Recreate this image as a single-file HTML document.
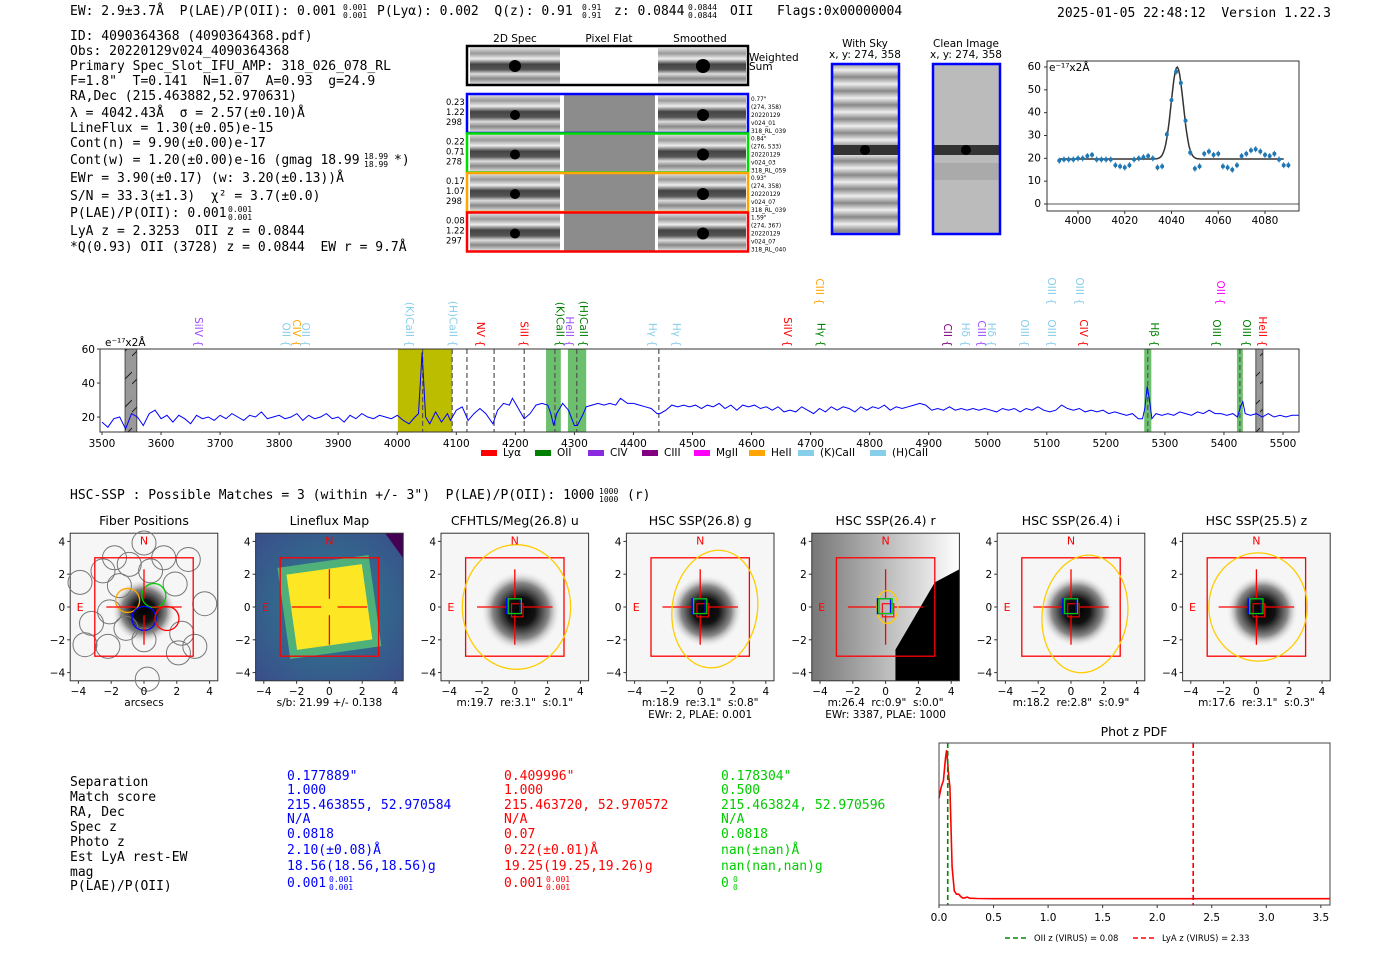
<!DOCTYPE html>
<html><head><meta charset="utf-8"><style>
body{margin:0;background:#fff;width:1400px;height:953px;overflow:hidden}
svg{display:block}
text{white-space:pre}
.m{font-family:"DejaVu Sans Mono","Liberation Mono",monospace;font-size:13px;fill:#000}
.s{font-family:"DejaVu Sans","Liberation Sans",sans-serif;fill:#000}
.t{font-family:"DejaVu Sans","Liberation Sans",sans-serif;font-size:10.5px;fill:#000}
.sup{font-size:8px}
</style></head><body>
<svg id="root" width="1400" height="953" viewBox="0 0 1400 953" xmlns="http://www.w3.org/2000/svg" xml:space="preserve">
<defs>
<linearGradient id="stripes" x1="0" y1="0" x2="0" y2="1">
<stop offset="0" stop-color="#ddd"/><stop offset="0.15" stop-color="#999"/><stop offset="0.3" stop-color="#eee"/><stop offset="0.45" stop-color="#444"/><stop offset="0.6" stop-color="#555"/><stop offset="0.72" stop-color="#ddd"/><stop offset="0.85" stop-color="#888"/><stop offset="1" stop-color="#ddd"/>
</linearGradient>
<linearGradient id="skystr" x1="0" x2="0" spreadMethod="repeat" gradientUnits="userSpaceOnUse" y1="0" y2="14">
<stop offset="0" stop-color="#eee"/><stop offset="0.5" stop-color="#888"/><stop offset="1" stop-color="#eee"/>
</linearGradient>
<radialGradient id="blob"><stop offset="0" stop-color="#000"/><stop offset="0.35" stop-color="#111"/><stop offset="0.7" stop-color="#888"/><stop offset="1" stop-color="#f2f2f2" stop-opacity="0"/></radialGradient>
<radialGradient id="viri" cx="0.5" cy="0.5" r="0.7"><stop offset="0" stop-color="#2c7f8e"/><stop offset="1" stop-color="#3a4e8a"/></radialGradient>
<linearGradient id="rgrad" x1="0" x2="1"><stop offset="0" stop-color="#777"/><stop offset="1" stop-color="#fff"/></linearGradient>
<pattern id="hatch" width="12" height="28" patternUnits="userSpaceOnUse"><rect width="12" height="28" fill="#999"/><line x1="0" y1="20" x2="12" y2="8" stroke="#222" stroke-width="1"/></pattern>
</defs>

<g>
<text class="m" x="70" y="15">EW: 2.9±3.7Å  P(LAE)/P(OII): 0.001</text>
<text class="m sup" x="343" y="10">0.001</text><text class="m sup" x="343" y="18">0.001</text>
<text class="m" x="377" y="15">P(Lyα): 0.002  Q(z): 0.91</text>
<text class="m sup" x="582" y="10">0.91</text><text class="m sup" x="582" y="18">0.91</text>
<text class="m" x="614" y="15">z: 0.0844</text>
<text class="m sup" x="688" y="10">0.0844</text><text class="m sup" x="688" y="18">0.0844</text>
<text class="m" x="730" y="15">OII   Flags:0x00000004</text>
<text class="m" x="1057" y="17">2025-01-05 22:48:12  Version 1.22.3</text>
</g>

<g>
<text class="m" x="70" y="40">ID: 4090364368 (4090364368.pdf)</text>
<text class="m" x="70" y="55">Obs: 20220129v024_4090364368</text>
<text class="m" x="70" y="70">Primary Spec_Slot_IFU_AMP: 318_026_078_RL</text>
<text class="m" x="70" y="85">F=1.8"  T=0.141  N=1.07  A=0.93  g=24.9</text>
<text class="m" x="70" y="100">RA,Dec (215.463882,52.970631)</text>
<text class="m" x="70" y="117">λ = 4042.43Å  σ = 2.57(±0.10)Å</text>
<text class="m" x="70" y="132">LineFlux = 1.30(±0.05)e-15</text>
<text class="m" x="70" y="147">Cont(n) = 9.90(±0.00)e-17</text>
<text class="m" x="70" y="164">Cont(w) = 1.20(±0.00)e-16 (gmag 18.99</text>
<text class="m" x="394" y="164">*)</text>
<text class="m sup" x="364" y="159">18.99</text><text class="m sup" x="364" y="167">18.99</text>
<text class="m" x="70" y="182">EWr = 3.90(±0.17) (w: 3.20(±0.13))Å</text>
<text class="m" x="70" y="200">S/N = 33.3(±1.3)  χ² = 3.7(±0.0)</text>
<text class="m" x="70" y="217">P(LAE)/P(OII): 0.001</text>
<text class="m sup" x="228" y="212">0.001</text><text class="m sup" x="228" y="220">0.001</text>
<text class="m" x="70" y="235">LyA z = 2.3253  OII z = 0.0844</text>
<text class="m" x="70" y="251">*Q(0.93) OII (3728) z = 0.0844  EW r = 9.7Å</text>
</g>

<g>
<text class="t" x="515" y="42" text-anchor="middle" font-size="8">2D Spec</text>
<text class="t" x="609" y="42" text-anchor="middle" font-size="8">Pixel Flat</text>
<text class="t" x="700" y="42" text-anchor="middle" font-size="8">Smoothed</text>
<g>
<rect x="470" y="48" width="90" height="36" fill="url(#stripes)"/>
<rect x="658" y="48" width="88" height="36" fill="url(#stripes)"/>
<circle cx="515" cy="66" r="6" fill="#000"/><circle cx="703" cy="66" r="7" fill="#000"/>
<rect x="467" y="46" width="281" height="39" fill="none" stroke="#000" stroke-width="2.5"/>
<text class="t" x="749" y="61" font-size="8">Weighted</text><text class="t" x="749" y="70" font-size="8">Sum</text>
</g>
<g id="rows"></g>
</g>

<g>
<text class="t" x="865" y="47" text-anchor="middle" font-size="10">With Sky</text>
<text class="t" x="865" y="58" text-anchor="middle" font-size="10">x, y: 274, 358</text>
<rect x="832" y="64" width="67" height="170" fill="url(#skystr)"/>
<rect x="832" y="145" width="67" height="10" fill="#333"/><circle cx="865" cy="150" r="5" fill="#000"/>
<rect x="832" y="64" width="67" height="170" fill="none" stroke="#00f" stroke-width="2.5"/>
</g>
<g>
<text class="t" x="966" y="47" text-anchor="middle" font-size="10">Clean Image</text>
<text class="t" x="966" y="58" text-anchor="middle" font-size="10">x, y: 274, 358</text>
<rect x="933" y="64" width="67" height="170" fill="#bbb"/>
<rect x="933" y="145" width="67" height="10" fill="#333"/><circle cx="966" cy="150" r="5" fill="#000"/>
<rect x="933" y="163" width="67" height="17" fill="#aaa"/>
<rect x="933" y="64" width="67" height="170" fill="none" stroke="#00f" stroke-width="2.5"/>
</g>

<g id="fitplot"></g>
<g id="spec"></g>

<text class="m" x="70" y="499">HSC-SSP : Possible Matches = 3 (within +/- 3")  P(LAE)/P(OII): 1000</text>
<text class="m" x="627" y="499">(r)</text>
<text class="m sup" x="599" y="494">1000</text><text class="m sup" x="599" y="502">1000</text>

<g id="cutouts"></g>

<g>
<text class="m" x="70" y="786">Separation</text>
<text class="m" x="70" y="801">Match score</text>
<text class="m" x="70" y="816">RA, Dec</text>
<text class="m" x="70" y="831">Spec z</text>
<text class="m" x="70" y="846">Photo z</text>
<text class="m" x="70" y="861">Est LyA rest-EW</text>
<text class="m" x="70" y="876">mag</text>
<text class="m" x="70" y="890">P(LAE)/P(OII)</text>
<text class="m" x="287" y="780" style="fill:#00f">0.177889"</text>
<text class="m" x="287" y="794" style="fill:#00f">1.000</text>
<text class="m" x="287" y="809" style="fill:#00f">215.463855, 52.970584</text>
<text class="m" x="287" y="823" style="fill:#00f">N/A</text>
<text class="m" x="287" y="838" style="fill:#00f">0.0818</text>
<text class="m" x="287" y="854" style="fill:#00f">2.10(±0.08)Å</text>
<text class="m" x="287" y="870" style="fill:#00f">18.56(18.56,18.56)g</text>
<text class="m" x="287" y="887" style="fill:#00f">0.001</text>
<text class="m sup" x="329" y="882" style="fill:#00f">0.001</text><text class="m sup" x="329" y="890" style="fill:#00f">0.001</text>
<text class="m" x="504" y="780" style="fill:#f00">0.409996"</text>
<text class="m" x="504" y="794" style="fill:#f00">1.000</text>
<text class="m" x="504" y="809" style="fill:#f00">215.463720, 52.970572</text>
<text class="m" x="504" y="823" style="fill:#f00">N/A</text>
<text class="m" x="504" y="838" style="fill:#f00">0.07</text>
<text class="m" x="504" y="854" style="fill:#f00">0.22(±0.01)Å</text>
<text class="m" x="504" y="870" style="fill:#f00">19.25(19.25,19.26)g</text>
<text class="m" x="504" y="887" style="fill:#f00">0.001</text>
<text class="m sup" x="546" y="882" style="fill:#f00">0.001</text><text class="m sup" x="546" y="890" style="fill:#f00">0.001</text>
<text class="m" x="721" y="780" style="fill:#0c0">0.178304"</text>
<text class="m" x="721" y="794" style="fill:#0c0">0.500</text>
<text class="m" x="721" y="809" style="fill:#0c0">215.463824, 52.970596</text>
<text class="m" x="721" y="823" style="fill:#0c0">N/A</text>
<text class="m" x="721" y="838" style="fill:#0c0">0.0818</text>
<text class="m" x="721" y="854" style="fill:#0c0">nan(±nan)Å</text>
<text class="m" x="721" y="870" style="fill:#0c0">nan(nan,nan)g</text>
<text class="m" x="721" y="887" style="fill:#0c0">0</text>
<text class="m sup" x="733" y="882" style="fill:#0c0">0</text><text class="m sup" x="733" y="890" style="fill:#0c0">0</text>
</g>

<g id="pdf"></g>
</svg>

<script>
const specWave=[3500,3510,3520,3530,3540,3550,3560,3570,3580,3590,3600,3610,3620,3630,3640,3650,3660,3670,3680,3690,3700,3710,3720,3730,3740,3750,3760,3770,3780,3790,3800,3810,3820,3830,3840,3850,3860,3870,3880,3890,3900,3910,3920,3930,3940,3950,3960,3970,3980,3990,4000,4010,4020,4030,4036,4042,4048,4055,4065,4075,4085,4090,4100,4110,4120,4130,4140,4150,4162,4170,4180,4190,4195,4200,4210,4215,4225,4235,4245,4255,4260,4265,4270,4280,4290,4300,4305,4315,4320,4330,4340,4350,4360,4370,4378,4390,4400,4410,4420,4430,4440,4445,4455,4465,4475,4485,4495,4505,4515,4525,4535,4545,4555,4565,4575,4585,4595,4605,4615,4625,4635,4645,4655,4665,4675,4685,4695,4705,4715,4725,4735,4745,4755,4765,4775,4785,4795,4805,4815,4825,4835,4845,4855,4865,4875,4885,4895,4905,4915,4925,4935,4945,4955,4965,4975,4985,4995,5005,5015,5025,5035,5045,5055,5065,5075,5085,5095,5105,5115,5125,5135,5145,5155,5165,5175,5185,5195,5205,5215,5225,5235,5245,5255,5262,5266,5270,5274,5278,5285,5295,5305,5315,5325,5335,5345,5355,5365,5375,5385,5395,5405,5415,5423,5428,5432,5436,5445,5455,5465,5475,5485,5495,5505,5515,5527];
const specFlux=[17,14,19,20,13,22,20,15,22,24,19,21,17,21,19,16,21,19,20,18,21,19,22,20,18,21,20,23,19,20,21,19,20,22,18,21,19,20,22,19,20,17,21,19,22,20,19,21,20,19,21,18,16,20,22,58,20,16,23,17,22,18,24,26,18,22,25,22,16,24,28,27,31,28,22,19,22,27,28,27,22,15,22,28,24,15,15,22,26,27,28,27,28,27,31,28,28,27,26,25,22,22,24,27,26,27,26,27,25,27,26,28,25,27,24,27,26,27,25,26,24,26,23,24,23,26,24,22,25,23,26,24,26,25,23,26,24,26,25,27,24,26,25,26,27,28,27,24,25,24,26,24,25,24,25,24,25,24,23,25,24,25,23,25,24,26,24,23,24,27,25,24,25,23,24,23,24,22,23,22,21,22,19,19,25,38,30,19,22,21,22,21,23,22,21,23,22,24,22,22,21,22,20,26,29,22,21,22,20,22,20,21,20,21,21];
const specXTicks=[3500,3600,3700,3800,3900,4000,4100,4200,4300,4400,4500,4600,4700,4800,4900,5000,5100,5200,5300,5400,5500];
const specYTicks=[20,40,60];
const dashWaves=[4043,4093,4118,4164,4215,4267,4304,4443,5271,5427];
const bandStart=[4001,4252,4289,5265,5422];
const bandEnd=[4093,4277,4320,5277,5432];
const bandColor=['#bdbd00','#6cbf6c','#6cbf6c','#6cbf6c','#6cbf6c'];
const hatchStart=[3539,5454];
const hatchEnd=[3559,5466];
const lineNames=['SiIV','OII','CIV','OII','(K)CaII','(H)CaII','NV','SiII','(K)CaII','HeII','(H)CaII','Hγ','Hγ','SiIV','CIII','Hγ','CII','Hδ','CIII','Hδ','OIII','OIII','OIII','OIII','CIV','Hβ','OII','OIII','OIII','HeII'];
const lineWaves=[3652,3801,3818,3834,4010,4083,4130,4204,4265,4281,4304,4421,4462,4650,4704,4707,4921,4951,4978,4995,5051,5097,5097,5144,5151,5271,5383,5376,5427,5454];
const lineColors=['#9b4dff','#87ceeb','#ffa500','#87ceeb','#87ceeb','#87ceeb','#f00','#f00','#008000','#9b4dff','#008000','#87ceeb','#87ceeb','#f00','#ffa500','#008000','#800080','#87ceeb','#9b4dff','#87ceeb','#87ceeb','#87ceeb','#87ceeb','#87ceeb','#f00','#008000','#ff00ff','#008000','#008000','#f00'];
const lineRow=[0,0,0,0,0,0,0,0,0,0,0,0,0,0,1,0,0,0,0,0,0,1,0,1,0,0,1,0,0,0];
const legendNames=['Lyα','OII','CIV','CIII','MgII','HeII','(K)CaII','(H)CaII'];
const legendColors=['#f00','#008000','#8a2be2','#800080','#ff00ff','#ffa500','#87ceeb','#87ceeb'];

const fitWave=[3992,3994,3996,3998,4000,4002,4004,4006,4008,4010,4012,4014,4016,4018,4020,4022,4024,4026,4028,4030,4032,4034,4036,4038,4040,4042,4044,4046,4048,4050,4052,4054,4056,4058,4060,4062,4064,4066,4068,4070,4072,4074,4076,4078,4080,4082,4084,4086,4088,4090];
const fitFlux=[19,19.5,19.5,19.5,20,20,21,21.5,19.5,19.5,19.5,19.5,17,16.5,16,17,19.5,20,20.5,21,20,16,16.5,30.5,45.5,58,53,36.5,22.5,15.5,16.5,22,23,21.5,22,16.5,16,15,17,21,22,23.5,24,23,21.5,21,22,19.5,17,17];
const fitModel=[19.7,40.3,4042.43,2.57];
const fitXTicks=[4000,4020,4040,4060,4080];
const fitYTicks=[0,10,20,30,40,50,60];

const pdfZ=[0,0.02,0.04,0.06,0.07,0.08,0.09,0.1,0.11,0.12,0.14,0.16,0.18,0.2,0.22,0.24,0.26,0.28,0.35,0.5,3.6];
const pdfP=[0.63,0.7,0.74,0.88,0.93,0.85,0.76,0.7,0.45,0.2,0.05,0.03,0.03,0.015,0.005,0.008,0.012,0.005,0.003,0.002,0.002];
const pdfTicks=[0,0.5,1,1.5,2,2.5,3,3.5];
const zOII=[0.08];
const zLyA=[2.33];

const NS='http://www.w3.org/2000/svg';
function mk(parent,tag,attrs,txt){const e=document.createElementNS(NS,tag);for(const k in attrs)e.setAttribute(k,attrs[k]);if(txt!==undefined)e.textContent=txt;parent.appendChild(e);return e;}

(function(){
 const g=document.getElementById('rows');
 const cols=['#00f','#0d0','#ffa500','#f00'];
 const lab=[['0.23','1.22','298'],['0.22','0.71','278'],['0.17','1.07','298'],['0.08','1.22','297']];
 const rlab=[['0.77"','(274, 358)','20220129','v024_01','318_RL_039'],['0.84"','(276, 533)','20220129','v024_03','318_RL_059'],['0.93"','(274, 358)','20220129','v024_07','318_RL_039'],['1.59"','(274, 367)','20220129','v024_07','318_RL_040']];
 for(let i=0;i<4;i++){
  const y=94+i*39.5;
  const r=mk(g,'g',{});
  
  
  mk(r,'rect',{x:470,y:y+1,width:90,height:37,fill:'url(#stripes)'});
  mk(r,'rect',{x:564,y:y+1,width:91,height:37,fill:'#8c8c8c'});
  mk(r,'rect',{x:658,y:y+1,width:88,height:37,fill:'url(#stripes)'});
  mk(r,'circle',{cx:515,cy:y+21,r:5,fill:'#000'});
  mk(r,'circle',{cx:703,cy:y+21,r:6,fill:'#000'});
  mk(r,'rect',{x:467,y:y,width:281,height:39,fill:'none',stroke:cols[i],'stroke-width':2.5});
  lab[i].forEach((t,j)=>mk(r,'text',{class:'t',x:0,y:0,'font-size':'10',transform:`translate(446 ${y+11+j*10}) scale(0.8)`},t));
  rlab[i].forEach((t,j)=>mk(r,'text',{class:'t',x:0,y:0,'font-size':'10',transform:`translate(751 ${y+7+j*8}) scale(0.55)`},t));
 }
})();

(function(){
 const g=document.getElementById('fitplot');
 const L=1047,R=1299,T=61,B=211;
 const x=w=>1078+(w-4000)*2.3375, y=v=>204-v*2.283;
 mk(g,'line',{x1:L,y1:y(0),x2:R,y2:y(0),stroke:'#555','stroke-width':1});
 let d='';for(let w=3992;w<=4088;w+=0.5){const m=fitModel[0]+fitModel[1]*Math.exp(-0.5*Math.pow((w-fitModel[2])/fitModel[3],2));d+=(d?'L':'M')+x(w).toFixed(1)+','+y(m).toFixed(1);}
 const p=mk(g,'path',{d:d,fill:'none',stroke:'#333','stroke-width':1.5});
 
 
 fitWave.forEach((w,i)=>{
  const c=mk(g,'g',{});
  
  
  mk(c,'line',{x1:x(w),x2:x(w),y1:y(fitFlux[i])-3,y2:y(fitFlux[i])+3,stroke:'#1f77b4','stroke-width':1});
  mk(c,'circle',{cx:x(w),cy:y(fitFlux[i]),r:2,fill:'#1f77b4'});
 });
 mk(g,'rect',{x:L,y:T,width:R-L,height:B-T,fill:'none',stroke:'#333','stroke-width':1});
 fitXTicks.forEach(t=>{mk(g,'line',{x1:x(t),x2:x(t),y1:B,y2:B+3,stroke:'#333'});mk(g,'text',{class:'t','font-size':'9.5',x:x(t),y:B+13,'text-anchor':'middle'},t);});
 fitYTicks.forEach(t=>{mk(g,'line',{x1:L-3,x2:L,y1:y(t),y2:y(t),stroke:'#333'});mk(g,'text',{class:'t','font-size':'9.5',x:L-6,y:y(t)+3,'text-anchor':'end'},t);});
 mk(g,'text',{class:'t','font-size':'9',x:L+2,y:T+10},'e⁻¹⁷x2Å');
})();

(function(){
 const g=document.getElementById('spec');
 const L=100,R=1299,T=349,B=432;
 const x=w=>102+(w-3500)*0.5905, y=v=>432-(v-11.2)*1.7;
 bandStart.forEach((s,i)=>{const b=mk(g,'rect',{x:x(s),y:T,width:x(bandEnd[i])-x(s),height:B-T,fill:bandColor[i]});});
 hatchStart.forEach((s,i)=>{const b=mk(g,'rect',{x:x(s),y:T,width:x(hatchEnd[i])-x(s),height:B-T,fill:'url(#hatch)',stroke:'#333','stroke-width':0.8});});
 dashWaves.forEach(w=>{const l=mk(g,'line',{x1:x(w),x2:x(w),y1:T,y2:B,stroke:'#555','stroke-width':1.2,'stroke-dasharray':'5,3'});});
 let d='';specWave.forEach((w,i)=>{d+=(i?'L':'M')+x(w).toFixed(1)+','+y(specFlux[i]).toFixed(1);});
 const p=mk(g,'path',{d:d,fill:'none',stroke:'#00f','stroke-width':1});
 
 
 mk(g,'rect',{x:L,y:T,width:R-L,height:B-T,fill:'none',stroke:'#333','stroke-width':1});
 specXTicks.forEach(t=>{mk(g,'line',{x1:x(t),x2:x(t),y1:B,y2:B+3,stroke:'#333'});mk(g,'text',{class:'t','font-size':'10',x:x(t),y:B+15,'text-anchor':'middle'},t);});
 specYTicks.forEach(t=>{mk(g,'line',{x1:L-3,x2:L,y1:y(t),y2:y(t),stroke:'#333'});mk(g,'text',{class:'t','font-size':'10',x:L-5,y:y(t)+4,'text-anchor':'end'},t);});
 mk(g,'text',{class:'t','font-size':'9.5',x:L+5,y:T-3},'e⁻¹⁷x2Å');
 lineNames.forEach((n,i)=>{
  const xx=x(lineWaves[i]), yy=lineRow[i]?305:347;
  const t=mk(g,'text',{class:'t','font-size':'9.5',x:xx,y:yy,'text-anchor':'end',transform:`rotate(90 ${xx} ${yy})`,dy:'-3',style:'fill:'+lineColors[i]},n+' {');
  
  
 });
 const lx=[481,535,588,642,694,749,798,870];
 legendNames.forEach((n,i)=>{
  const e=mk(g,'g',{});
  
  
  mk(e,'rect',{x:lx[i],y:450,width:16,height:6,fill:legendColors[i]});
  mk(e,'text',{class:'t','font-size':'8',x:lx[i]+22,y:456},n);
 });
})();

(function(){
 const g=document.getElementById('cutouts');
 const titles=['Fiber Positions','Lineflux Map','CFHTLS/Meg(26.8) u','HSC SSP(26.8) g','HSC SSP(26.4) r','HSC SSP(26.4) i','HSC SSP(25.5) z'];
 const sub1=['arcsecs','s/b: 21.99 +/- 0.138','m:19.7  re:3.1"  s:0.1"','m:18.9  re:3.1"  s:0.8"','m:26.4  rc:0.9"  s:0.0"','m:18.2  re:2.8"  s:0.9"','m:17.6  re:3.1"  s:0.3"'];
 const sub2=['','','','EWr: 2, PLAE: 0.001','EWr: 3387, PLAE: 1000','',''];
 const s=16.4;
 for(let i=0;i<7;i++){
  const cx=144+i*185.4, cy=607;
  const p=mk(g,'g',{});
  
  
  const L=cx-4.5*s,T=cy-4.5*s,W=9*s;
  mk(p,'rect',{x:L,y:T,width:W,height:W,fill:'#f6f6f6'});
  if(i==0){mk(p,'circle',{cx:cx,cy:cy+4,r:32,fill:'url(#blob)'});}
  else if(i==1){mk(p,'rect',{x:L,y:T,width:W,height:W,fill:'url(#viri)'});
   mk(p,'rect',{x:cx-46,y:cy-46,width:92,height:92,fill:'#4fb07a',transform:`rotate(-8 ${cx} ${cy})`});
   mk(p,'rect',{x:cx-38,y:cy-38,width:76,height:76,fill:'#fde725',transform:`rotate(-8 ${cx} ${cy})`});
   mk(p,'polygon',{points:`${L+W-18},${T} ${L+W},${T} ${L+W},${T+25}`,fill:'#440154'});}
  else if(i==4){mk(p,'rect',{x:L,y:T,width:W,height:W,fill:'url(#rgrad)'});
   mk(p,'polygon',{points:`${cx+0.6*s},${T+W} ${cx+0.6*s},${cy+2.6*s} ${cx+3*s},${cy-1.5*s} ${L+W},${cy-2.3*s} ${L+W},${T+W}`,fill:'#000'});}
  else {mk(p,'circle',{cx:cx+6,cy:cy+4,r:i==2?40:36,fill:'url(#blob)'});}
  mk(p,'rect',{x:L,y:T,width:W,height:W,fill:'none',stroke:'#333','stroke-width':1});
  if(i==0){
   const fc=[[0,3.9],[-1.8,3],[0.4,2.2],[2.7,2.9],[-3.9,1.5],[-1.5,1.3],[1.9,1.4],[-2.1,-0.3],[3.7,0.2],[-3.2,-1],[-1.1,-1.3],[2.3,-1.6],[-2.2,-2.4],[0,-2],[0.2,-4.4],[-0.9,2.6],[2.1,-2.8],[-2.5,2.2],[1.2,3],[-3.6,-2.3],[3.1,-2.4]];
   fc.forEach(c=>mk(p,'circle',{cx:cx+c[0]*s,cy:cy-c[1]*s,r:12,fill:'none',stroke:'#777','stroke-width':1}));
   [['#ffa500',-1,0.4],['#0c0',0.6,0.7],['#00f',0,-0.7],['#f00',1.4,-0.7]].forEach(c=>mk(p,'circle',{cx:cx+c[1]*s,cy:cy-c[2]*s,r:12,fill:'none',stroke:c[0],'stroke-width':1.3}));
  }
  mk(p,'rect',{x:cx-3*s,y:cy-3*s,width:6*s,height:6*s,fill:'none',stroke:'#f00','stroke-width':1.3});
  [[-2.3,-0.5],[0.5,2.3]].forEach(a=>{mk(p,'line',{x1:cx+a[0]*s,x2:cx+a[1]*s,y1:cy,y2:cy,stroke:'#f00','stroke-width':1.3});mk(p,'line',{y1:cy+a[0]*s,y2:cy+a[1]*s,x1:cx,x2:cx,stroke:'#f00','stroke-width':1.3});});
  if(i>=2){
   const er=[null,null,[3.3,3.8],[2.6,3.6],[0.65,1.0],[2.6,3.6],[3,3.3]][i];
   mk(p,'ellipse',{cx:cx+(i==3||i==5?0.9*s:0.1*s),cy:cy+(i==5?0.3*s:0),rx:er[0]*s,ry:er[1]*s,fill:'none',stroke:'#fc0','stroke-width':1.3,transform:(i==3||i==5)?`rotate(8 ${cx} ${cy})`:''});
   mk(p,'rect',{x:cx-0.2*s,y:cy-0.2*s,width:0.7*s,height:0.8*s,fill:'none',stroke:'#f00','stroke-width':1.1});
   mk(p,'rect',{x:cx-0.5*s,y:cy-0.5*s,width:0.8*s,height:0.9*s,fill:'none',stroke:'#00f','stroke-width':1.3});
   mk(p,'rect',{x:cx-0.4*s,y:cy-0.3*s,width:0.8*s,height:0.9*s,fill:'none',stroke:'#0c0','stroke-width':1.3,transform:`translate(0 ${-0.2*s})`});
  }
  mk(p,'text',{class:'s','font-size':'11',x:cx,y:cy-3.8*s,'text-anchor':'middle',style:'fill:#f00'},'N');
  mk(p,'text',{class:'s','font-size':'11',x:cx-3.9*s,y:cy+4,'text-anchor':'middle',style:'fill:#f00'},'E');
  mk(p,'text',{class:'s','font-size':'12.5',x:cx,y:525,'text-anchor':'middle'},titles[i]);
  [-4,-2,0,2,4].forEach(t=>{
   const lbl=t<0?'−'+(-t):''+t;
   mk(p,'line',{x1:cx+t*s,x2:cx+t*s,y1:T+W,y2:T+W+3,stroke:'#333'});
   mk(p,'text',{class:'t','font-size':'10',x:cx+t*s,y:T+W+14,'text-anchor':'middle'},lbl);
   mk(p,'line',{x1:L-3,x2:L,y1:cy-t*s,y2:cy-t*s,stroke:'#333'});
   mk(p,'text',{class:'t','font-size':'10',x:L-5,y:cy-t*s+4,'text-anchor':'end'},lbl);
  });
  mk(p,'text',{class:'t','font-size':'10',x:cx,y:706,'text-anchor':'middle'},sub1[i]);
  if(sub2[i])mk(p,'text',{class:'t','font-size':'10',x:cx,y:718,'text-anchor':'middle'},sub2[i]);
 }
})();

(function(){
 const g=document.getElementById('pdf');
 const L=939,R=1330,T=743,B=905;
 const x=z=>939+z*109.1, y=p=>899-p*160;
 mk(g,'text',{class:'s','font-size':'12.5',x:1134,y:736,'text-anchor':'middle'},'Phot z PDF');
 let d='';pdfZ.forEach((z,i)=>{d+=(i?'L':'M')+x(Math.min(z,3.58)).toFixed(1)+','+y(pdfP[i]).toFixed(1);});
 const p=mk(g,'path',{d:d,fill:'none',stroke:'#f00','stroke-width':1.6});
 
 
 zOII.forEach(z=>{const l=mk(g,'line',{x1:x(z),x2:x(z),y1:T,y2:B,stroke:'#080','stroke-width':1.6,'stroke-dasharray':'5,3'});});
 zLyA.forEach(z=>{const l=mk(g,'line',{x1:x(z),x2:x(z),y1:T,y2:B,stroke:'#f00','stroke-width':1.6,'stroke-dasharray':'5,3'});});
 mk(g,'rect',{x:L,y:T,width:R-L,height:B-T,fill:'none',stroke:'#444','stroke-width':1});
 pdfTicks.forEach(t=>{mk(g,'line',{x1:x(t),x2:x(t),y1:B,y2:B+3,stroke:'#333'});mk(g,'text',{class:'t','font-size':'10.5',x:x(t),y:B+16,'text-anchor':'middle'},t.toFixed(1));});
 const lg=mk(g,'g',{});
 
 
 mk(lg,'line',{x1:1005,x2:1026,y1:938,y2:938,stroke:'#080','stroke-width':1.6,'stroke-dasharray':'5,3'});
 mk(lg,'text',{class:'t','font-size':'10',x:0,y:0,transform:'translate(1034 941) scale(0.8)'},'OII z (VIRUS) = 0.08');
 mk(lg,'line',{x1:1133,x2:1154,y1:938,y2:938,stroke:'#f00','stroke-width':1.6,'stroke-dasharray':'5,3'});
 mk(lg,'text',{class:'t','font-size':'10',x:0,y:0,transform:'translate(1162 941) scale(0.8)'},'LyA z (VIRUS) = 2.33');
})();
</script>
</body></html>
